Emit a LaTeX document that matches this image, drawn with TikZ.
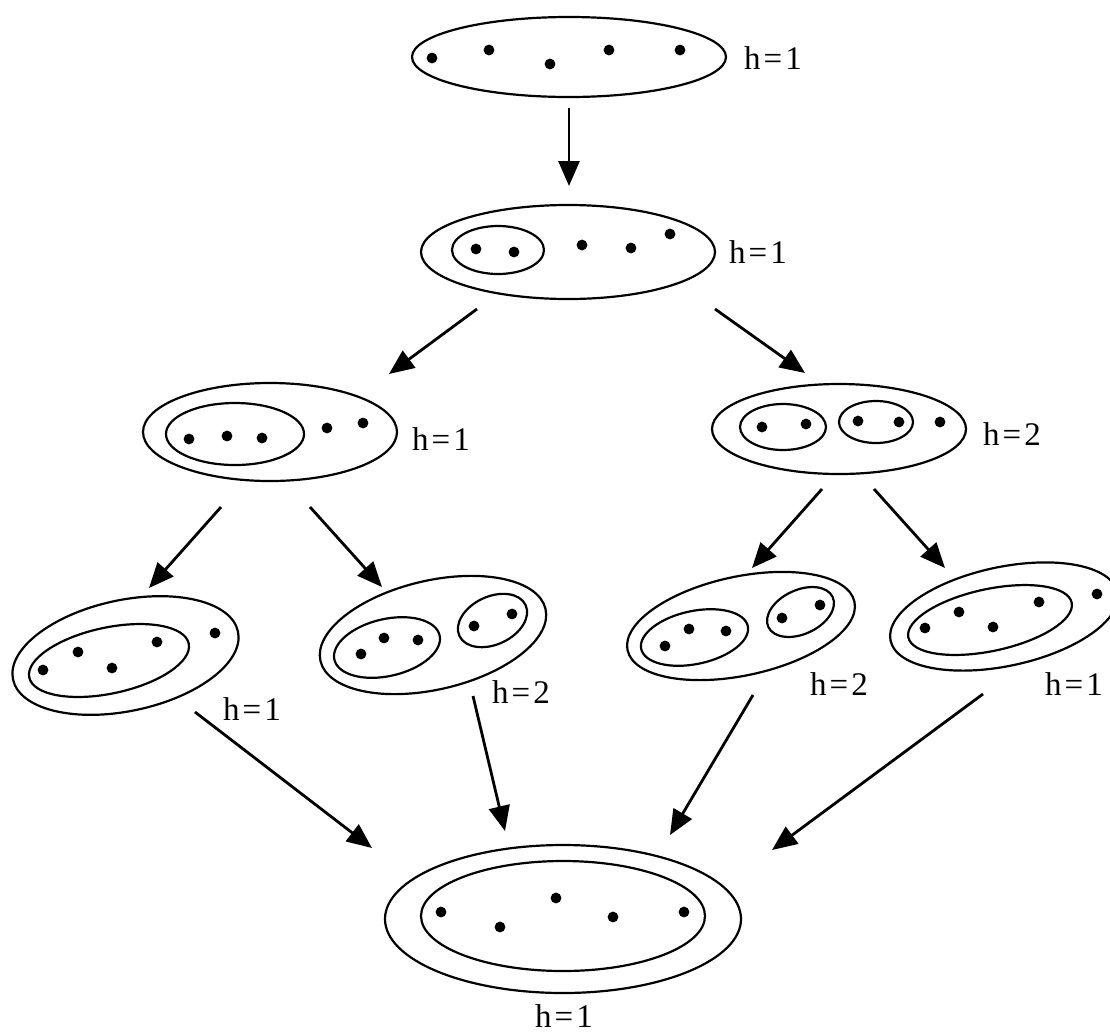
\documentclass[tikz,border=0pt]{standalone}
\usepackage{fontspec}
\setmainfont{Liberation Serif}
\usetikzlibrary{arrows.meta,shapes.geometric}
\begin{document}
\begin{tikzpicture}[x=1pt,y=-1pt,
  set/.style={draw, ellipse, line width=2.2pt, inner sep=0pt, outer sep=0pt},
  lbl/.style={font=\fontsize{33}{36}\selectfont, anchor=base, inner sep=0pt},
  arr/.style={line width=2.8pt, -{Triangle[length=25pt,width=21pt]}}]
\useasboundingbox (0,0) rectangle (1110,1034);
\clip (0,0) rectangle (1110,1034);
\newcommand{\hl}[1]{h\kern3pt=\kern3pt#1}
% ---- row 1
\node[set, minimum width=314pt, minimum height=80pt] (s1) at (569,57) {};
\foreach \p in {(432,58),(489,50),(550,64),(609,50),(680,50)} \fill \p circle (5.4pt);
\node[lbl] (l1) at (773,69) {\hl{1}};
% ---- row 2
\node[set, minimum width=294pt, minimum height=94pt] (s2) at (568,252) {};
\node[set, minimum width=92pt, minimum height=48pt] (s2a) at (498,250) {};
\foreach \p in {(476,249),(514,252),(582,245),(631,248),(670,234)} \fill \p circle (5.4pt);
\node[lbl] (l2) at (758,263) {\hl{1}};
% ---- row 3 left
\node[set, minimum width=254pt, minimum height=98pt] (s3) at (270,432) {};
\node[set, minimum width=138pt, minimum height=62pt] (s3a) at (235,434) {};
\foreach \p in {(189,439),(227,436),(262,438),(327,428),(363,423)} \fill \p circle (5.4pt);
\node[lbl] (l3) at (441,450) {\hl{1}};
% ---- row 3 right
\node[set, minimum width=254pt, minimum height=90pt] (s4) at (839,429) {};
\node[set, minimum width=86pt, minimum height=46pt] (s4a) at (783,427) {};
\node[set, minimum width=74pt, minimum height=42pt] (s4b) at (876,422) {};
\foreach \p in {(762,427),(806,424),(858,421),(899,422),(940,422)} \fill \p circle (5.4pt);
\node[lbl] (l4) at (1012,445) {\hl{2}};
% ---- row 4 A
\node[set, minimum width=230pt, minimum height=111pt, rotate=12] (sA) at (125.5,655.5) {};
\node[set, minimum width=163pt, minimum height=66pt, rotate=12] (sAa) at (109,660.5) {};
\foreach \p in {(43,670),(78,652),(112,668),(157,642),(215,633)} \fill \p circle (5.4pt);
\node[lbl] (lA) at (252,720) {\hl{1}};
% ---- row 4 B
\node[set, minimum width=231pt, minimum height=109pt, rotate=13] (sB) at (433,635) {};
\node[set, minimum width=108pt, minimum height=57pt, rotate=13] (sBa) at (387,647.5) {};
\node[set, minimum width=73pt, minimum height=48pt, rotate=25] (sBb) at (492.5,620.5) {};
\foreach \p in {(361,654),(384,638),(418,640),(474,626),(512,614)} \fill \p circle (5.4pt);
\node[lbl] (lB) at (521,703) {\hl{2}};
% ---- row 4 C
\node[set, minimum width=232pt, minimum height=99pt, rotate=12] (sC) at (741,626) {};
\node[set, minimum width=109pt, minimum height=53pt, rotate=12] (sCa) at (694.5,637.5) {};
\node[set, minimum width=71pt, minimum height=44pt, rotate=25] (sCb) at (800.5,612) {};
\foreach \p in {(665,646),(689,629),(726,631),(782,618),(820,605)} \fill \p circle (5.4pt);
\node[lbl] (lC) at (839,695) {\hl{2}};
% ---- row 4 D
\node[set, minimum width=232pt, minimum height=99pt, rotate=12] (sD) at (1004,616.5) {};
\node[set, minimum width=167pt, minimum height=62pt, rotate=12] (sDa) at (990,620) {};
\foreach \p in {(925,628),(959,612),(993,627),(1039,602),(1097,594)} \fill \p circle (5.4pt);
\node[lbl] (lD) at (1074,695) {\hl{1}};
% ---- row 5
\node[set, minimum width=356pt, minimum height=148pt] (s5) at (563,919) {};
\node[set, minimum width=284pt, minimum height=110pt] (s5a) at (563,916) {};
\foreach \p in {(441,912),(500,927),(556,898),(613,917),(684,912)} \fill \p circle (5.4pt);
\node[lbl] (l5) at (564,1027) {\hl{1}};
% ---- arrows
\coordinate (a1s) at (569,108); \coordinate (a1e) at (569,186);
\coordinate (a2s) at (477,309); \coordinate (a2e) at (389,374);
\coordinate (a3s) at (715,309); \coordinate (a3e) at (805,373);
\coordinate (a4s) at (221,507); \coordinate (a4e) at (149,588);
\coordinate (a5s) at (310,507); \coordinate (a5e) at (382,587);
\coordinate (a6s) at (822,489); \coordinate (a6e) at (752,568);
\coordinate (a7s) at (874,489); \coordinate (a7e) at (945,568);
\coordinate (a8s) at (195,712); \coordinate (a8e) at (372,848);
\coordinate (a9s) at (473,696); \coordinate (a9e) at (505,831);
\coordinate (a10s) at (753,695); \coordinate (a10e) at (670,835);
\coordinate (a11s) at (983,694); \coordinate (a11e) at (772,850);
\foreach \i in {1,...,11} \draw[arr] (a\i s) -- (a\i e);
\end{tikzpicture}
\end{document}
